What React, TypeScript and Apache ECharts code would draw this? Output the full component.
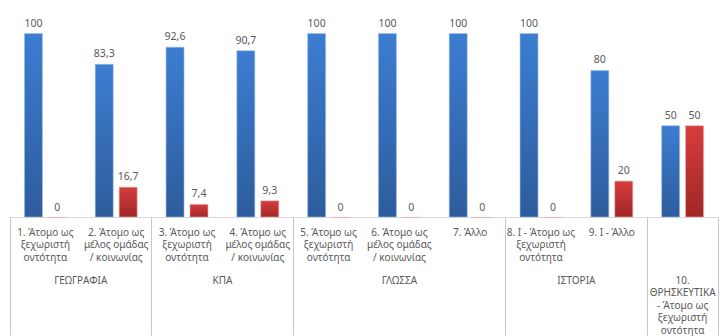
import React, { useEffect, useRef } from "react";
import * as echarts from "echarts";

const categories = [
  "1. Άτομο ως\nξεχωριστή\nοντότητα",
  "2. Άτομο ως\nμέλος ομάδας\n/ κοινωνίας",
  "3. Άτομο ως\nξεχωριστή\nοντότητα",
  "4. Άτομο ως\nμέλος ομάδας\n/ κοινωνίας",
  "5. Άτομο ως\nξεχωριστή\nοντότητα",
  "6. Άτομο ως\nμέλος ομάδας\n/ κοινωνίας",
  "7. Άλλο",
  "8. Ι - Άτομο ως\nξεχωριστή\nοντότητα",
  "9. Ι - Άλλο",
  "",
];

const blueValues = [100, 83.3, 92.6, 90.7, 100, 100, 100, 100, 80, 50];
const redValues = [0, 16.7, 7.4, 9.3, 0, 0, 0, 0, 20, 50];

// group labels placed on half-category points (index = 2 * position)
const groupLabels: { index: number; label: string }[] = [
  { index: 2, label: "ΓΕΩΓΡΑΦΙΑ" },
  { index: 6, label: "ΚΠΑ" },
  { index: 11, label: "ΓΛΩΣΣΑ" },
  { index: 16, label: "ΙΣΤΟΡΙΑ" },
  { index: 19, label: "10.\nΘΡΗΣΚΕΥΤΙΚΑ\n- Άτομο ως\nξεχωριστή\nοντότητα" },
];
// group boundaries (in half-category points)
const groupBoundaries = [0, 4, 8, 14, 18, 20];

const fmt = (v: number) => String(v).replace(".", ",");

export default function App() {
  const ref = useRef<HTMLDivElement>(null);
  useEffect(() => {
    if (!ref.current) return;
    const chart = echarts.init(ref.current, undefined, { renderer: "svg" });
    const groupData: string[] = [];
    for (let i = 0; i <= categories.length * 2; i++) groupData.push("");
    groupLabels.forEach((g) => (groupData[g.index] = g.label));
    const font = "Noto Sans";
    const textColor = "#595959";
    chart.setOption({
      animation: false,
      grid: { left: 10, width: 720, top: 33, bottom: 118 },
      xAxis: [
        {
          type: "category",
          data: categories,
          position: "bottom",
          axisLine: { show: true, lineStyle: { color: "#d9d9d9", width: 1 } },
          axisTick: { show: false },
          axisLabel: {
            interval: 0,
            margin: 8,
            fontFamily: font,
            fontSize: 10,
            lineHeight: 12.5,
            color: textColor,
          },
        },
        {
          type: "category",
          data: groupData,
          boundaryGap: false,
          position: "bottom",
          axisLine: { show: false },
          axisTick: {
            show: true,
            interval: (idx: number) => groupBoundaries.includes(idx),
            length: 118,
            lineStyle: { color: "#c8c8c8", width: 1 },
          },
          axisLabel: {
            interval: 0,
            margin: 56,
            fontFamily: font,
            fontSize: 10,
            lineHeight: 12.5,
            color: textColor,
          },
        },
      ],
      yAxis: { type: "value", min: 0, max: 100, show: false, splitLine: { show: false } },
      series: [
        {
          type: "bar",
          xAxisIndex: 0,
          data: blueValues,
          barWidth: 19,
          barGap: "26%",
          itemStyle: {
            color: new echarts.graphic.LinearGradient(0, 0, 0, 1, [
              { offset: 0, color: "#3c7dd1" },
              { offset: 1, color: "#2d5c9c" },
            ]),
            borderColor: "rgba(160,190,235,0.6)",
            borderWidth: 1,
          },
          label: {
            show: true,
            position: "top",
            distance: 5,
            formatter: (p: any) => fmt(p.value),
            fontFamily: font,
            fontSize: 10.5,
            color: textColor,
          },
        },
        {
          type: "bar",
          xAxisIndex: 0,
          data: redValues,
          barWidth: 19,
          itemStyle: {
            color: new echarts.graphic.LinearGradient(0, 0, 0, 1, [
              { offset: 0, color: "#d63c3c" },
              { offset: 1, color: "#a02727" },
            ]),
            borderColor: "rgba(235,170,170,0.6)",
            borderWidth: 1,
          },
          label: {
            show: true,
            position: "top",
            distance: 5,
            formatter: (p: any) => fmt(p.value),
            fontFamily: font,
            fontSize: 10.5,
            color: textColor,
          },
        },
      ],
    });
    return () => chart.dispose();
  }, []);
  return (
    <div
      ref={ref}
      style={{ position: "absolute", left: 0, top: 0, width: 721, height: 336, overflow: "hidden", background: "#fff" }}
    />
  );
}
